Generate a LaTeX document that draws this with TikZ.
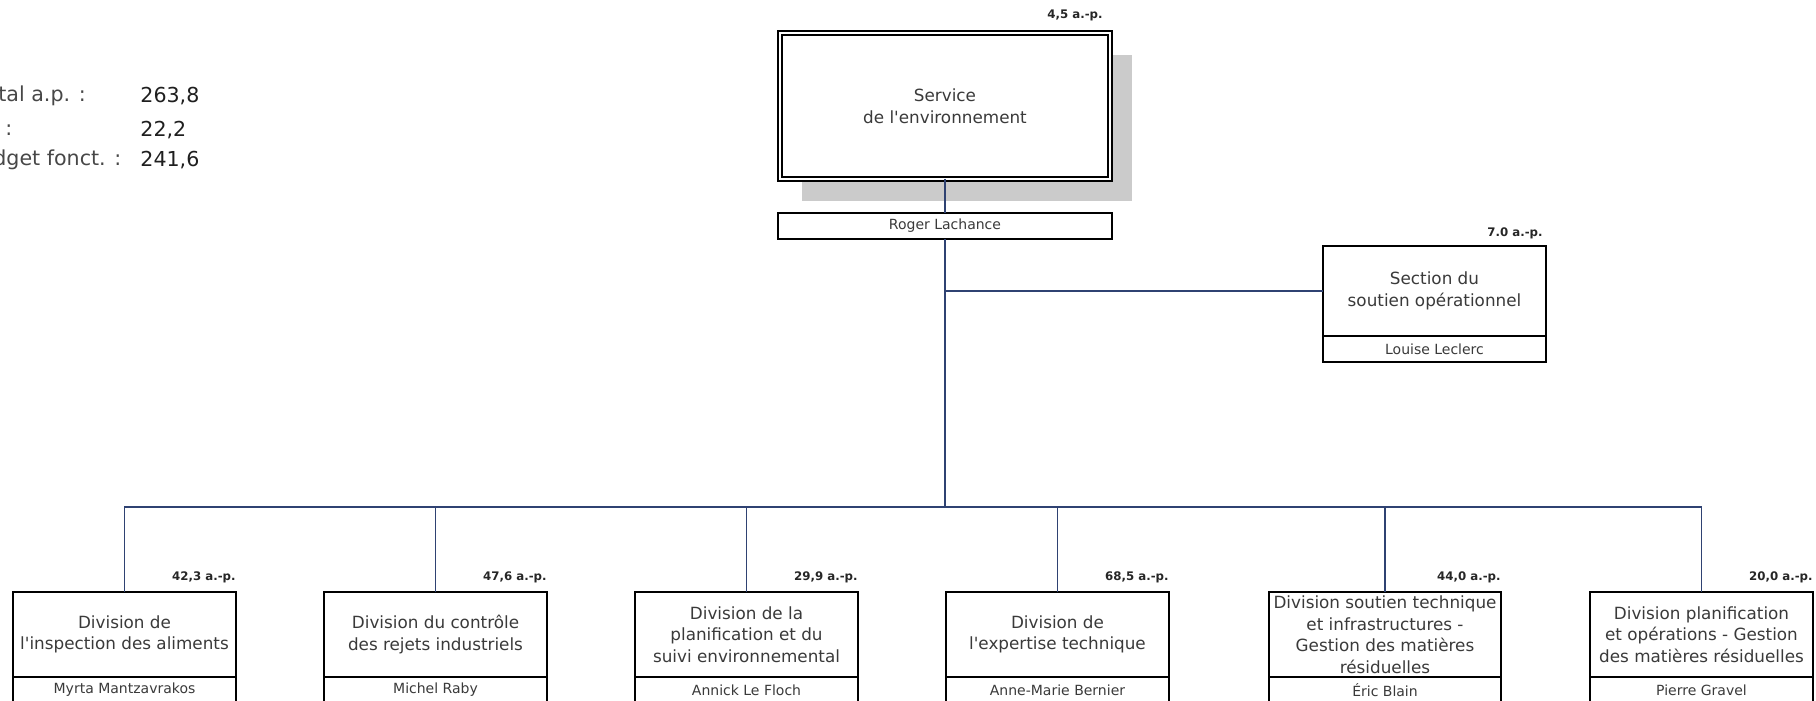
\documentclass[tikz,border=0pt]{standalone}
\usepackage{fontspec}
\setmainfont{DejaVu Sans}
\usetikzlibrary{positioning, shadows}
\definecolor{bleu}{HTML}{2F4272}
\definecolor{texte}{HTML}{3A3A3A}
\definecolor{ombre}{HTML}{CBCBCB}

\begin{document}
\begin{tikzpicture}[x=0.5pt, y=-0.5pt, node distance = 44pt]
 \tikzstyle{serv}  = [draw, rectangle, line width=0.7pt, double=white, double distance=1.45pt, fill=white, outer sep=0pt, minimum width=165pt, minimum height=73pt, text=texte, align=center, font=\fontsize{8.4}{10.75}\selectfont, drop shadow={shadow xshift=11pt, shadow yshift=-11pt, fill=ombre, opacity=1}]
 \tikzstyle{unite} = [draw, rectangle, line width=0.8pt, fill=white, minimum width=111.5pt, minimum height=42.5pt, inner sep=1pt, outer sep=0pt, text=texte, align=center, font=\fontsize{8.4}{10.75}\selectfont]
 \tikzstyle{nom}   = [draw, rectangle, line width=0.8pt, fill=white, minimum width=111.5pt, minimum height=13pt, inner sep=0pt, outer sep=0pt, text=texte, font=\fontsize{7}{8}\selectfont]
 \tikzstyle{ap}    = [inner sep=0pt, font=\fontsize{5.9}{6}\selectfont\bfseries, text=black!85]
 \tikzstyle{txt}   = [anchor=west, inner sep=0pt, font=\fontsize{10.3}{12}\selectfont]
 \tikzstyle{trait} = [draw=bleu, line width=0.75pt]

 \useasboundingbox (0,0) rectangle (1816,701);

 \node [txt, text=black!72] (T1) at (-2,96)  {tal a.p. :};
 \node [txt, text=black!72] (T2) at (5,130)  {:};
 \node [txt, text=black!72] (T3) at (-7,160) {dget fonct. :};
 \node [txt, text=black!88] (V1) at (140,96)  {263,8};
 \node [txt, text=black!88] (V2) at (140,130) {22,2};
 \node [txt, text=black!88] (V3) at (140,160) {241,6};

 \node [serv] (SE) at (945,106) {Service\\de l\textquotesingle environnement};
 \node [nom, minimum width=167pt, below = 17pt of SE] (RL) {Roger Lachance};
 \node [ap, above left = 6pt and 3.5pt of SE.north east] (P0) {4,5 a.-p.};

 \node [unite, minimum height=45pt] (SO) at (1434.5,291) {Section du\\soutien opérationnel};
 \node [nom, below = 0pt of SO] (LL) {Louise Leclerc};
 \node [ap, above left = 3.5pt and 1.5pt of SO.north east] (P7) {7.0 a.-p.};

 \node [unite] (D1) at (124.5,634.5) {Division de\\l\textquotesingle inspection des aliments};
 \node [unite, right = of D1] (D2) {Division du contrôle\\des rejets industriels};
 \node [unite, right = of D2] (D3) {Division de la\\planification et du\\suivi environnemental};
 \node [unite, right = of D3] (D4) {Division de\\l\textquotesingle expertise technique};
 \node [unite, minimum width=116pt, right = 50pt of D4] (D5) {Division soutien technique\\et infrastructures -\\Gestion des matières\\résiduelles};
 \node [unite, right = 44.5pt of D5] (D6) {Division planification\\et opérations - Gestion\\des matières résiduelles};

 \node [nom, below = 0pt of D1] (N1) {Myrta Mantzavrakos};
 \node [nom, below = 0pt of D2] (N2) {Michel Raby};
 \node [nom, below = 0pt of D3] (N3) {Annick Le Floch};
 \node [nom, below = 0pt of D4] (N4) {Anne-Marie Bernier};
 \node [nom, minimum width=116pt, below = 0pt of D5] (N5) {Éric Blain};
 \node [nom, below = 0pt of D6] (N6) {Pierre Gravel};

 \node [ap, above left = 4.2pt and 0pt of D1.north east] (P1) {42,3 a.-p.};
 \node [ap, above left = 4.2pt and 0pt of D2.north east] (P2) {47,6 a.-p.};
 \node [ap, above left = 4.2pt and 0pt of D3.north east] (P3) {29,9 a.-p.};
 \node [ap, above left = 4.2pt and 0pt of D4.north east] (P4) {68,5 a.-p.};
 \node [ap, above left = 4.2pt and 0pt of D5.north east] (P5) {44,0 a.-p.};
 \node [ap, above left = 4.2pt and 0pt of D6.north east] (P6) {20,0 a.-p.};

 \coordinate (B) at (945,507);
 \draw [trait] (SE) -- (RL);
 \draw [trait] (RL) -- (B);
 \draw [trait] (SO) -- (SO -| RL);
 \draw [trait] (D1) |- (B) -| (D6);
 \draw [trait] (D2) -- (D2 |- B);
 \draw [trait] (D3) -- (D3 |- B);
 \draw [trait] (D4) -- (D4 |- B);
 \draw [trait] (D5) -- (D5 |- B);
\end{tikzpicture}
\end{document}
